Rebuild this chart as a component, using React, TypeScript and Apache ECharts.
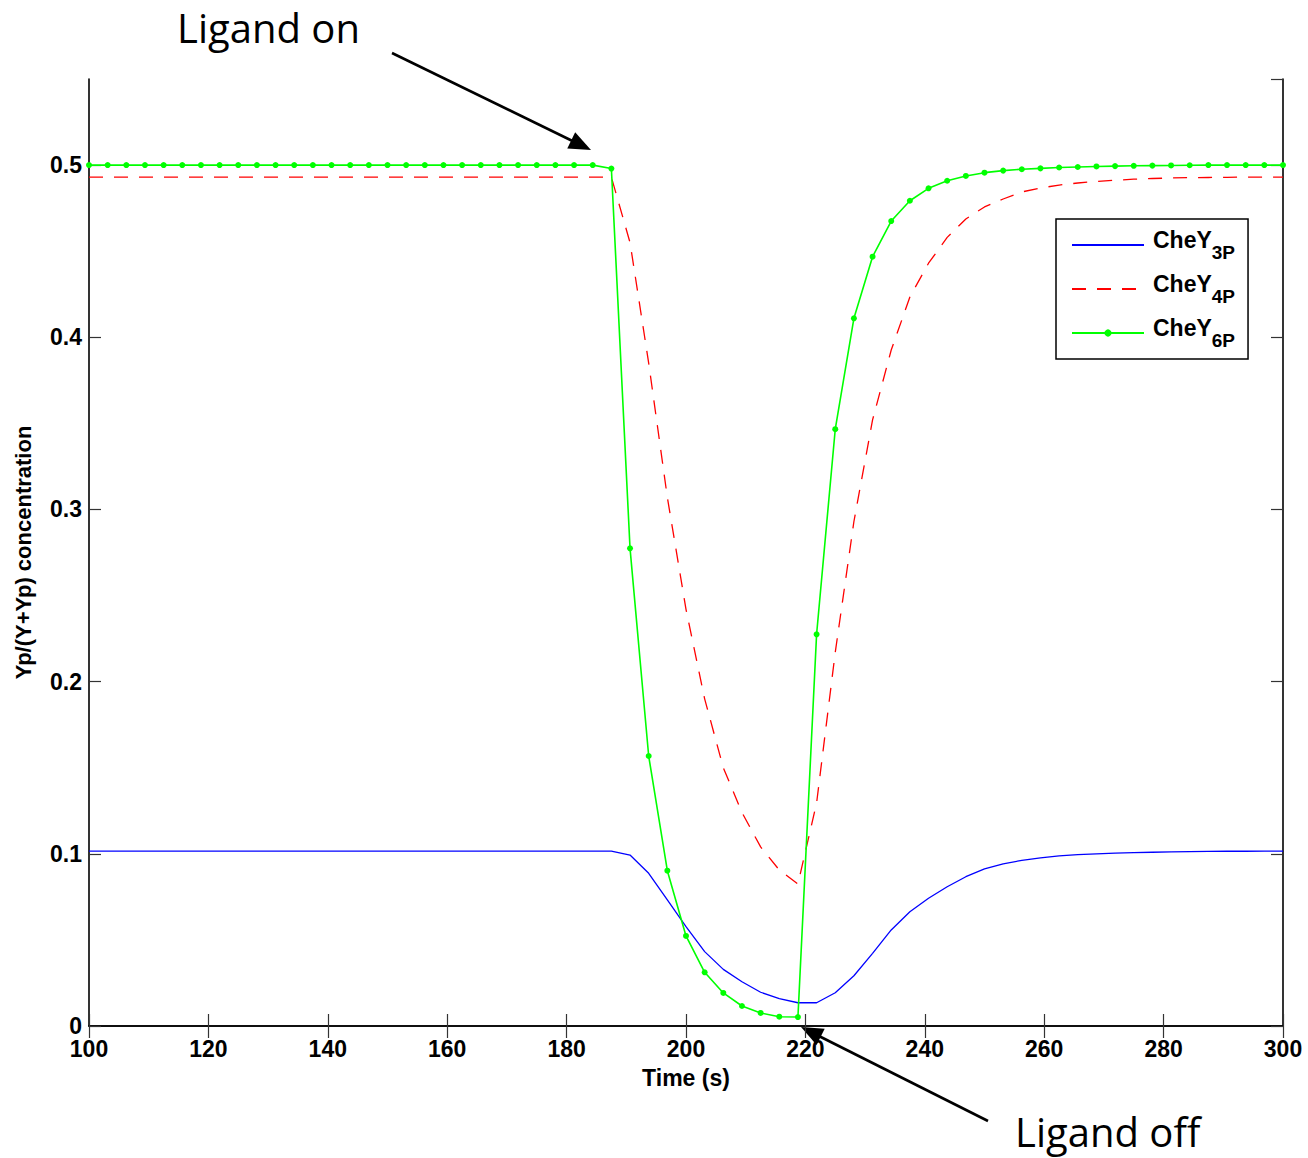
import React, { useEffect, useRef } from "react";
import * as echarts from "echarts";

// Time samples (s)
const time = [
  100, 103.125, 106.25, 109.375, 112.5, 115.625, 118.75, 121.875, 125, 128.125,
  131.25, 134.375, 137.5, 140.625, 143.75, 146.875, 150, 153.125, 156.25, 159.375,
  162.5, 165.625, 168.75, 171.875, 175, 178.125, 181.25, 184.375, 187.5, 190.625,
  193.75, 196.875, 200, 203.125, 206.25, 209.375, 212.5, 215.625, 218.75, 221.875,
  225, 228.125, 231.25, 234.375, 237.5, 240.625, 243.75, 246.875, 250, 253.125,
  256.25, 259.375, 262.5, 265.625, 268.75, 271.875, 275, 278.125, 281.25, 284.375,
  287.5, 290.625, 293.75, 296.875, 300,
];

const cheY3P = [
  0.1016, 0.1016, 0.1016, 0.1016, 0.1016, 0.1016, 0.1016, 0.1016, 0.1016, 0.1016,
  0.1016, 0.1016, 0.1016, 0.1016, 0.1016, 0.1016, 0.1016, 0.1016, 0.1016, 0.1016,
  0.1016, 0.1016, 0.1016, 0.1016, 0.1016, 0.1016, 0.1016, 0.1016, 0.1016, 0.0993,
  0.0887, 0.0732, 0.0577, 0.0432, 0.0329, 0.0257, 0.0196, 0.0159, 0.0135, 0.0135,
  0.0193, 0.0292, 0.0422, 0.0558, 0.0664, 0.0742, 0.0809, 0.0867, 0.0912, 0.0942,
  0.0962, 0.0977, 0.0988, 0.0995, 0.1, 0.1004, 0.1007, 0.1009, 0.1011, 0.1013,
  0.1014, 0.1015, 0.1015, 0.1016, 0.1016,
];

const cheY4P = [
  0.493, 0.493, 0.493, 0.493, 0.493, 0.493, 0.493, 0.493, 0.493, 0.493,
  0.493, 0.493, 0.493, 0.493, 0.493, 0.493, 0.493, 0.493, 0.493, 0.493,
  0.493, 0.493, 0.493, 0.493, 0.493, 0.493, 0.493, 0.493, 0.493, 0.455,
  0.385, 0.307, 0.242, 0.19, 0.15, 0.124, 0.104, 0.0906, 0.0825, 0.1295,
  0.217, 0.293, 0.352, 0.3926, 0.4234, 0.443, 0.458, 0.4687, 0.4757, 0.4803,
  0.4844, 0.4867, 0.4884, 0.4896, 0.4905, 0.4912, 0.4918, 0.4922, 0.4925, 0.4927,
  0.4928, 0.4929, 0.493, 0.493, 0.493,
];

const cheY6P = [
  0.5, 0.5, 0.5, 0.5, 0.5, 0.5, 0.5, 0.5, 0.5, 0.5,
  0.5, 0.5, 0.5, 0.5, 0.5, 0.5, 0.5, 0.5, 0.5, 0.5,
  0.5, 0.5, 0.5, 0.5, 0.5, 0.5, 0.5, 0.5, 0.498, 0.2774,
  0.1568, 0.0902, 0.0523, 0.0312, 0.0192, 0.0116, 0.0076, 0.0054, 0.0052, 0.2275,
  0.3466, 0.411, 0.4468, 0.4675, 0.4793, 0.4865, 0.4909, 0.4937, 0.4956, 0.4968,
  0.4976, 0.4981, 0.4986, 0.4989, 0.4992, 0.4994, 0.4996, 0.4997, 0.4998, 0.4999,
  0.5, 0.5, 0.5, 0.5, 0.5,
];

const seriesNames = ["CheY3P", "CheY4P", "CheY6P"];
const seriesSubs: Record<string, string> = { CheY3P: "3P", CheY4P: "4P", CheY6P: "6P" };

const FONT = "Liberation Sans, Arial, sans-serif";

function arrow(tail: [number, number], tip: [number, number]) {
  const [x1, y1] = tail;
  const [x2, y2] = tip;
  const dx = x2 - x1;
  const dy = y2 - y1;
  const len = Math.sqrt(dx * dx + dy * dy);
  const ux = dx / len;
  const uy = dy / len;
  const headLen = 22;
  const headHalf = 9;
  const bx = x2 - ux * headLen;
  const by = y2 - uy * headLen;
  return [
    {
      type: "line",
      shape: { x1, y1, x2: bx + ux * 2, y2: by + uy * 2 },
      style: { stroke: "#000", lineWidth: 2.6 },
      silent: true,
    },
    {
      type: "polygon",
      shape: {
        points: [
          [x2, y2],
          [bx - uy * headHalf, by + ux * headHalf],
          [bx + uy * headHalf, by - ux * headHalf],
        ],
      },
      style: { fill: "#000" },
      silent: true,
    },
  ];
}

export default function App() {
  const ref = useRef<HTMLDivElement>(null);

  useEffect(() => {
    document.body.style.margin = "0";
    if (!ref.current) return;
    const chart = echarts.init(ref.current, null, { renderer: "svg" });

    const mk = (vals: number[]) => time.map((t, i) => [t, vals[i]]);

    const tickStyle = {
      show: true,
      inside: true,
      length: 12,
      lineStyle: { color: "#333", width: 1.2 },
    };
    const axisLine = { show: true, lineStyle: { color: "#000", width: 1.6 } };

    chart.setOption({
      animation: false,
      backgroundColor: "#fff",
      grid: { left: 89, top: 79, width: 1194, height: 947, containLabel: false },
      xAxis: [
        {
          type: "value",
          min: 100,
          max: 300,
          interval: 20,
          position: "bottom",
          name: "Time (s)",
          nameLocation: "middle",
          nameGap: 40,
          nameTextStyle: { fontFamily: FONT, fontWeight: "bold", fontSize: 23, color: "#000" },
          axisLine,
          axisTick: tickStyle,
          splitLine: { show: false },
          axisLabel: { fontFamily: FONT, fontWeight: "bold", fontSize: 23, color: "#000", margin: 11 },
        },
        {
          type: "value",
          min: 100,
          max: 300,
          interval: 20,
          position: "top",
          axisLine,
          axisTick: tickStyle,
          splitLine: { show: false },
          axisLabel: { show: false },
        },
      ],
      yAxis: [
        {
          type: "value",
          min: 0,
          max: 0.55,
          interval: 0.1,
          position: "left",
          name: "Yp/(Y+Yp) concentration",
          nameLocation: "middle",
          nameGap: 55,
          nameTextStyle: { fontFamily: FONT, fontWeight: "bold", fontSize: 22, color: "#000" },
          axisLine,
          axisTick: tickStyle,
          splitLine: { show: false },
          axisLabel: {
            fontFamily: FONT,
            fontWeight: "bold",
            fontSize: 23,
            color: "#000",
            margin: 7,
            showMaxLabel: false,
            formatter: (v: number) => (v === 0 ? "0" : v.toFixed(1)),
          },
        },
        {
          type: "value",
          min: 0,
          max: 0.55,
          interval: 0.1,
          position: "right",
          axisLine,
          axisTick: tickStyle,
          splitLine: { show: false },
          axisLabel: { show: false },
        },
      ],
      legend: {
        orient: "vertical",
        left: 1056,
        top: 219,
        width: 194,
        padding: [9, 13, 9, 15],
        itemGap: 10,
        itemWidth: 72,
        itemHeight: 9,
        borderColor: "#000",
        borderWidth: 1.5,
        backgroundColor: "#fff",
        data: [
          { name: seriesNames[0], itemStyle: { opacity: 0 } },
          { name: seriesNames[1], itemStyle: { opacity: 0 } },
          { name: seriesNames[2] },
        ],
        formatter: (name: string) => `{a|CheY}{b|${seriesSubs[name]}}`,
        textStyle: {
          rich: {
            a: { fontFamily: FONT, fontWeight: "bold", fontSize: 23, color: "#000", verticalAlign: "top", padding: [0, 0, 0, 4] },
            b: { fontFamily: FONT, fontWeight: "bold", fontSize: 19, color: "#000", verticalAlign: "top", padding: [15, 0, 0, 0] },
          },
        },
      },
      series: [
        {
          name: "CheY3P",
          type: "line",
          data: mk(cheY3P),
          symbol: "none",
          lineStyle: { color: "#0000ff", width: 1.3 },
          itemStyle: { color: "#0000ff" },
        },
        {
          name: "CheY4P",
          type: "line",
          data: mk(cheY4P),
          symbol: "none",
          lineStyle: { color: "#ff0000", width: 1.3, type: [14, 11] },
          itemStyle: { color: "#ff0000" },
        },
        {
          name: "CheY6P",
          type: "line",
          data: mk(cheY6P),
          symbol: "circle",
          symbolSize: 6,
          lineStyle: { color: "#00ff00", width: 1.6 },
          itemStyle: { color: "#00ff00", borderWidth: 0 },
        },
      ],
      graphic: [
        {
          type: "text",
          x: 177,
          y: 27,
          style: {
            text: "Ligand on",
            fontFamily: "Open Sans",
            fontSize: 40,
            fill: "#000",
            verticalAlign: "middle",
          },
          silent: true,
        },
        {
          type: "text",
          x: 1015,
          y: 1131,
          style: {
            text: "Ligand off",
            fontFamily: "Open Sans",
            fontSize: 40,
            fill: "#000",
            verticalAlign: "middle",
          },
          silent: true,
        },
        ...arrow([392, 53], [591, 150]),
        ...arrow([988, 1121], [801, 1027]),
      ],
    });

    return () => {
      chart.dispose();
    };
  }, []);

  return <div ref={ref} style={{ width: 1308, height: 1158 }} />;
}
